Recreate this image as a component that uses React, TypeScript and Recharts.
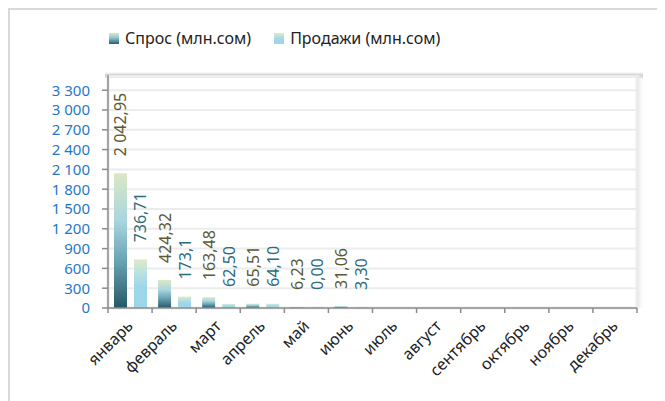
import { BarChart, Bar, XAxis, YAxis, CartesianGrid, LabelList, ReferenceArea } from 'recharts';

const months = ['январь', 'февраль', 'март', 'апрель', 'май', 'июнь', 'июль', 'август', 'сентябрь', 'октябрь', 'ноябрь', 'декабрь'];
const demand = [2042.95, 424.32, 163.48, 65.51, 6.23, 31.06, null, null, null, null, null, null];
const sales = [736.71, 173.1, 62.5, 64.1, 0, 3.3, null, null, null, null, null, null];
const demandLabels = ['2 042,95', '424,32', '163,48', '65,51', '6,23', '31,06'];
const salesLabels = ['736,71', '173,1', '62,50', '64,10', '0,00', '3,30'];
const yTicks = [0, 300, 600, 900, 1200, 1500, 1800, 2100, 2400, 2700, 3000, 3300];
const Y_MAX = 3530;

const CHART_W = 655;
const CHART_H = 391;
const Y_W = 98;
const MARGIN = { top: 65, right: 28, bottom: 0, left: 0 };
const PLOT_W = CHART_W - Y_W - MARGIN.left - MARGIN.right;
const HALF_BAND = PLOT_W / months.length / 2;
const FONT = '"Noto Sans", sans-serif';

const data = months.map((m, i) => ({
  month: m,
  demand: demand[i],
  sales: sales[i],
  demandLabel: demandLabels[i],
  salesLabel: salesLabels[i],
}));

const fmt = (v: number) => String(v).replace(/\B(?=(\d{3})+(?!\d))/g, ' ');

function XTick(props: any) {
  const { x, y, payload, index } = props;
  const tx = x + 4;
  const ty = y + 19;
  return (
    <g>
      <line x1={x - HALF_BAND} x2={x - HALF_BAND} y1={y} y2={y + 5} stroke='#8c8c8c' strokeWidth={1.5} />
      {index === months.length - 1 && (
        <line x1={x + HALF_BAND} x2={x + HALF_BAND} y1={y} y2={y + 5} stroke='#8c8c8c' strokeWidth={1.5} />
      )}
      <text x={tx} y={ty} transform={`rotate(-45, ${tx}, ${ty})`} textAnchor='end' fill='#222' fontSize={16} fontFamily={FONT}>
        {payload.value}
      </text>
    </g>
  );
}

const barLabel = (color: string) => (props: any) => {
  const { x, y, width, value } = props;
  if (value === undefined || value === null) return null;
  const lx = x + width / 2;
  const ly = y - 17;
  return (
    <text x={lx} y={ly} transform={`rotate(-90, ${lx}, ${ly})`} textAnchor='start' dominantBaseline='central' fill={color} fontSize={16} fontFamily={FONT}>
      {value}
    </text>
  );
};

function PlotFrame(props: any) {
  const { x, y, width, height } = props;
  return (
    <g>
      <rect x={x - 3} y={y - 4} width={width + 9} height={7} fill='url(#topShade)' />
      <rect x={x + width} y={y} width={8} height={height} fill='url(#rightShade)' />
      <rect x={x} y={y + 1.5} width={width} height={height - 1.5} fill='none' stroke='#ececec' strokeWidth={3} />
    </g>
  );
}

export default function App() {
  return (
    <div
      style={{
        position: 'relative',
        width: 657,
        height: 393,
        boxSizing: 'border-box',
        borderTop: '2px solid #d9d9d9',
        borderLeft: '2px solid #d9d9d9',
        fontFamily: FONT,
      }}
    >
      <div style={{ position: 'absolute', top: 17, left: 99, display: 'flex', alignItems: 'center', fontSize: 16, color: '#222', zIndex: 2 }}>
        <span style={{ width: 10, height: 11, background: 'linear-gradient(#dbe8c4, #8cc3d2 45%, #285c6a)', marginRight: 6 }} />
        <span style={{ marginRight: 23 }}>Спрос (млн.сом)</span>
        <span style={{ width: 10, height: 11, background: 'linear-gradient(#dcecc8, #a2d8e8 50%, #9ad6ea)', marginRight: 6 }} />
        <span>Продажи (млн.сом)</span>
      </div>
      <BarChart width={CHART_W} height={CHART_H} data={data} margin={MARGIN} barCategoryGap={6} barGap={7}>
        <defs>
          <linearGradient id='demandFill' x1='0' y1='0' x2='0' y2='1'>
            <stop offset='0' stopColor='#dbe8c4' />
            <stop offset='0.35' stopColor='#a9d6df' />
            <stop offset='0.65' stopColor='#6aa3b3' />
            <stop offset='1' stopColor='#255867' />
          </linearGradient>
          <linearGradient id='salesFill' x1='0' y1='0' x2='0' y2='1'>
            <stop offset='0' stopColor='#dcecc8' />
            <stop offset='0.35' stopColor='#b2dee6' />
            <stop offset='0.55' stopColor='#9fd7e9' />
            <stop offset='1' stopColor='#9ad6ea' />
          </linearGradient>
          <linearGradient id='topShade' x1='0' y1='0' x2='0' y2='1'>
            <stop offset='0' stopColor='#ffffff' stopOpacity={0} />
            <stop offset='0.6' stopColor='#c6c6c6' />
            <stop offset='1' stopColor='#d8d8d8' />
          </linearGradient>
          <linearGradient id='rightShade' x1='0' y1='0' x2='1' y2='0'>
            <stop offset='0' stopColor='#e2e2e2' />
            <stop offset='1' stopColor='#ffffff' stopOpacity={0} />
          </linearGradient>
        </defs>
        <CartesianGrid vertical={false} stroke='#ececec' strokeWidth={2} />
        <ReferenceArea y1={0} y2={Y_MAX} ifOverflow='visible' shape={PlotFrame} />
        <XAxis
          dataKey='month'
          interval={0}
          height={93}
          tickLine={false}
          tickSize={0}
          tickMargin={0}
          axisLine={{ stroke: '#8c8c8c', strokeWidth: 1.5 }}
          tick={XTick}
        />
        <YAxis
          type='number'
          domain={[0, Y_MAX]}
          ticks={yTicks}
          interval={0}
          width={Y_W}
          tickSize={6}
          tickMargin={12}
          tickFormatter={fmt}
          tickLine={{ stroke: '#8c8c8c', strokeWidth: 1.5 }}
          axisLine={{ stroke: '#8c8c8c', strokeWidth: 1.5 }}
          tick={{ fill: '#1f78c8', fontSize: 15, fontFamily: FONT }}
        />
        <Bar dataKey='demand' fill='url(#demandFill)' minPointSize={1} isAnimationActive={false}>
          <LabelList dataKey='demandLabel' content={barLabel('#5b5a37')} />
        </Bar>
        <Bar dataKey='sales' fill='url(#salesFill)' minPointSize={1} isAnimationActive={false}>
          <LabelList dataKey='salesLabel' content={barLabel('#2d6d7e')} />
        </Bar>
      </BarChart>
    </div>
  );
}
